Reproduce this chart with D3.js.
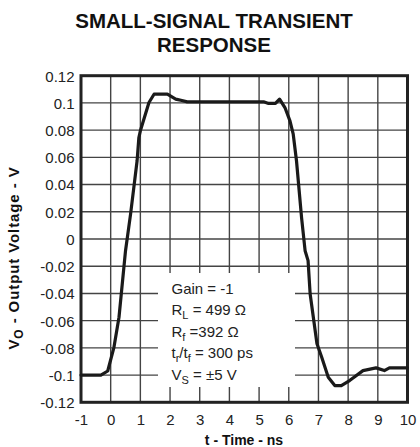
<!DOCTYPE html>
<html><head><meta charset="utf-8">
<script src="https://cdn.jsdelivr.net/npm/d3@7"></script>
<style>body{margin:0;background:#fff}svg{display:block}text{font-family:"Liberation Sans",Arial,sans-serif}</style>
</head><body>
<script>
const timeNs = [-1,-0.6,-0.33,-0.1,0.11,0.28,0.5,0.67,0.89,0.95,1.0,1.29,1.46,1.91,2.19,2.4,2.58,3.5,4.5,5.15,5.32,5.55,5.69,5.87,6.04,6.15,6.26,6.43,6.55,6.65,6.72,6.95,7.11,7.33,7.55,7.77,8.05,8.5,8.94,9.22,9.39,10];
const voltage = [-0.1,-0.1,-0.1,-0.097,-0.0796,-0.0575,-0.0086,0.0183,0.0575,0.0746,0.0795,0.1003,0.1064,0.1064,0.1028,0.1018,0.1008,0.1008,0.1008,0.1008,0.0996,0.0996,0.1028,0.0966,0.0868,0.077,0.0575,0.0159,-0.0086,-0.0159,-0.0404,-0.077,-0.0869,-0.1016,-0.1077,-0.1077,-0.104,-0.0967,-0.0947,-0.0967,-0.0947,-0.0947];
const xTicks = [-1,0,1,2,3,4,5,6,7,8,9,10];
const yTicks = [-0.12,-0.1,-0.08,-0.06,-0.04,-0.02,0,0.02,0.04,0.06,0.08,0.1,0.12];
const titleLines = ["SMALL-SIGNAL TRANSIENT","RESPONSE"];
const annotation = [
  [["Gain = -1",""]],
  [["R",""],["L","sub"],[" = 499 Ω",""]],
  [["R",""],["f","sub"],[" =392 Ω",""]],
  [["t",""],["r","sub"],["/t",""],["f","sub"],[" = 300 ps",""]],
  [["V",""],["S","sub"],[" = ±5 V",""]]
];

const W=420,H=447;
const svg=d3.select("body").append("svg").attr("width",W).attr("height",H);
const x=d3.scaleLinear().domain([-1,10]).range([81,407.5]);
const y=d3.scaleLinear().domain([-0.12,0.12]).range([402.3,75.7]);

// title
svg.append("g").selectAll("text").data(titleLines).join("text")
  .attr("x",214).attr("y",(d,i)=>28.3+i*24).attr("text-anchor","middle")
  .attr("font-size",20.5).attr("font-weight","bold").attr("fill","#111").text(d=>d);

// grid
const grid=svg.append("g").attr("stroke","#444").attr("stroke-width",1.4);
grid.selectAll("line.v").data(xTicks).join("line").attr("class","v")
  .attr("x1",d=>x(d)).attr("x2",d=>x(d)).attr("y1",y(0.12)).attr("y2",y(-0.12));
grid.selectAll("line.h").data(yTicks).join("line").attr("class","h")
  .attr("y1",d=>y(d)).attr("y2",d=>y(d)).attr("x1",x(-1)).attr("x2",x(10));

// annotation box (white cover)
svg.append("rect").attr("x",158).attr("y",273).attr("width",137).attr("height",114).attr("fill","#fff");
const ann=svg.append("g").attr("font-size",15).attr("fill","#222");
annotation.forEach((parts,i)=>{
  const t=ann.append("text").attr("x",171.5).attr("y",294+i*21.4);
  parts.forEach((p,j)=>{
    const s=t.append("tspan").text(p[0]);
    if(p[1]==="sub") s.attr("font-size",11).attr("dy",4);
    else if(j>0 && parts[j-1][1]==="sub") s.attr("dy",-4);
  });
});

// frame
svg.append("rect").attr("x",x(-1)).attr("y",y(0.12)).attr("width",x(10)-x(-1)).attr("height",y(-0.12)-y(0.12))
  .attr("fill","none").attr("stroke","#222").attr("stroke-width",3);

// curve
const line=d3.line().x((d,i)=>x(timeNs[i])).y(d=>y(d)).curve(d3.curveLinear);
svg.append("path").datum(voltage).attr("d",line).attr("fill","none").attr("stroke","#1a1a1a")
  .attr("stroke-width",3.2).attr("stroke-linejoin","round").attr("stroke-linecap","round");

// axes labels
const xAxis=d3.axisBottom(x).tickValues(xTicks).tickSize(0).tickPadding(0).tickFormat(d=>String(d));
const gx=svg.append("g").attr("transform","translate(0,425)").call(xAxis);
gx.select(".domain").remove();
gx.selectAll("text").attr("dy",0).attr("y",0).attr("font-size",15).attr("fill","#222").attr("font-family",null);
const yAxis=d3.axisLeft(y).tickValues(yTicks).tickSize(0).tickPadding(0).tickFormat(d=>String(+d.toFixed(2)));
const gy=svg.append("g").attr("transform","translate(74.5,0)").call(yAxis);
gy.select(".domain").remove();
gy.selectAll("text").attr("dy","0.36em").attr("x",0).attr("font-size",15).attr("fill","#222").attr("font-family",null);

// axis titles
svg.append("text").attr("x",244).attr("y",445).attr("text-anchor","middle").attr("font-size",14)
  .attr("font-weight","bold").attr("fill","#111").text("t - Time - ns");
const yt=svg.append("text").attr("transform","translate(18.5,258) rotate(-90)").attr("text-anchor","middle")
  .attr("font-size",15).attr("font-weight","bold").attr("letter-spacing",0.9).attr("fill","#111");
yt.append("tspan").text("V");
yt.append("tspan").attr("font-size",12).attr("dy",4).text("O");
yt.append("tspan").attr("dy",-4).text(" - Output Voltage - V");
</script>
</body></html>
